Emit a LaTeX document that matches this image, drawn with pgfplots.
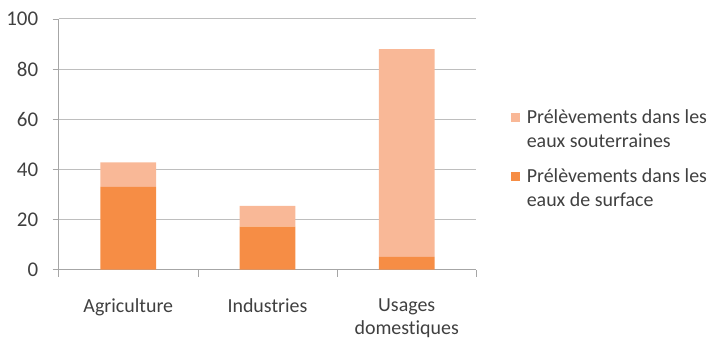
\documentclass[border=0pt]{standalone}
\usepackage{pgfplots}
\pgfplotsset{compat=1.18}
\usepackage{fontspec}
\setmainfont{Carlito}[Ligatures=NoCommon]
\definecolor{surf}{HTML}{F68D45}
\definecolor{sout}{HTML}{F9B897}
\definecolor{gridc}{HTML}{BEBEBE}
\definecolor{axc}{HTML}{A6A6A6}
\definecolor{txt}{HTML}{404040}
\begin{document}
\begin{tikzpicture}
\path[use as bounding box] (0,0) rectangle (722bp,340bp);
\begin{axis}[
  at={(58.7bp,70.3bp)}, anchor=south west,
  scale only axis, width=417.6bp, height=250.7bp,
  ybar stacked, bar width=0.4,
  xmin=-0.5, xmax=2.5, ymin=0, ymax=100,
  ytick={0,20,40,60,80,100},
  xtick={0,1,2},
  xticklabels={Agriculture,Industries,{Usages\\domestiques}},
  minor xtick={-0.5,0.5,1.5,2.5},
  axis lines*=left,
  axis line style={axc, line width=1pt},
  tick align=outside,
  major tick length=6bp,
  minor tick length=7bp,
  x tick style={draw=none},
  minor x tick style={draw=axc, line width=0.8pt},
  y tick style={draw=axc, line width=0.8pt},
  ymajorgrids, grid style={gridc, line width=1pt},
  tick label style={font=\fontsize{20}{23}\selectfont, text=txt},
  yticklabel style={font=\fontsize{21}{24}\selectfont, xshift=-11bp},
  xticklabel style={align=center, yshift=-19.5bp},
  /pgf/number format/assume math mode=true,
  reverse legend,
  legend style={draw=none, fill=none, at={(1.075,0.655)}, anchor=north west,
    font=\fontsize{20}{24}\selectfont, text=txt,
    cells={align=left, anchor=west}, row sep=16bp},
  legend image code/.code={\fill[#1] (0bp,7.5bp) rectangle (9bp,16.5bp); \path (14bp,0);},
]
\addplot[fill=surf, draw=none] coordinates {(0,33.0) (1,17.2) (2,5.1)};
\addplot[fill=sout, draw=none] coordinates {(0,9.8) (1,8.3) (2,82.9)};
\legend{{Prélèvements dans les\\eaux de surface},{Prélèvements dans les\\eaux souterraines}}
\end{axis}
\end{tikzpicture}
\end{document}
